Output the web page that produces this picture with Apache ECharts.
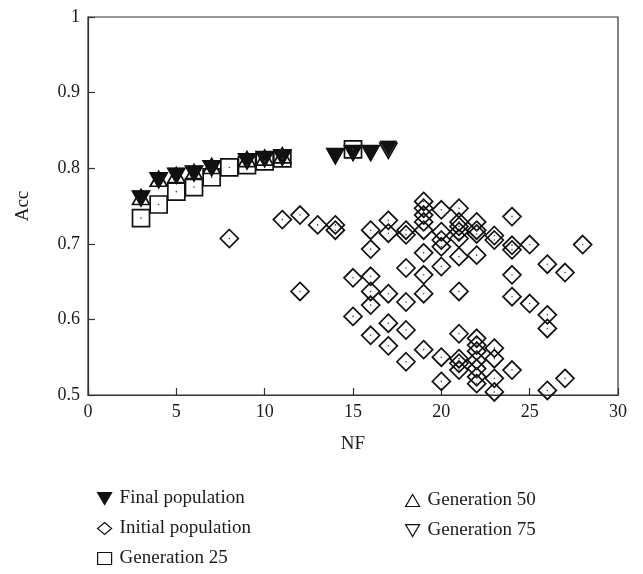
<!DOCTYPE html>
<html>
<head>
<meta charset="utf-8">
<script src="https://cdn.jsdelivr.net/npm/echarts@6/dist/echarts.min.js"></script>
<style>
  html, body { margin: 0; padding: 0; background: #fff; }
  #container { width: 643px; height: 574px; }
</style>
</head>
<body>
<div id="container"></div>
<script>
var dom = document.getElementById("container");
var myChart = echarts.init(dom, null, {renderer: 'canvas'});

// [NF, Acc] pairs
var finalPop = [
    [3, 0.760], [4, 0.784], [5, 0.790], [6, 0.793], [7, 0.800], [9, 0.809],
    [10, 0.812], [11, 0.814], [14, 0.816], [15, 0.820], [16, 0.820], [17, 0.826]
];
var gen25 = [
    [3, 0.734], [4, 0.752], [5, 0.769], [6, 0.775], [7, 0.788], [8, 0.801],
    [9, 0.804], [10, 0.809], [11, 0.813], [15, 0.825]
];
var gen50 = [
    [3, 0.762], [4, 0.786], [5, 0.791], [6, 0.795], [7, 0.803], [9, 0.812],
    [10, 0.814], [11, 0.817]
];
var gen75 = [
    [3, 0.760], [4, 0.784], [5, 0.790], [6, 0.793], [7, 0.800], [9, 0.809],
    [10, 0.812], [11, 0.814], [14, 0.816], [15, 0.820], [16, 0.820], [17, 0.823]
];
var initialPop = [
    [8, 0.707], [11, 0.732], [12, 0.738], [12, 0.637], [13, 0.725],
    [14, 0.725], [14, 0.718],
    [15, 0.655], [15, 0.604],
    [16, 0.718], [16, 0.693], [16, 0.657], [16, 0.637], [16, 0.619], [16, 0.579],
    [17, 0.731], [17, 0.714], [17, 0.634], [17, 0.595], [17, 0.565],
    [18, 0.718], [18, 0.712], [18, 0.668], [18, 0.623], [18, 0.586], [18, 0.544],
    [19, 0.756], [19, 0.747], [19, 0.738], [19, 0.729], [19, 0.718], [19, 0.688],
    [19, 0.659], [19, 0.634], [19, 0.560],
    [20, 0.745], [20, 0.716], [20, 0.705], [20, 0.696], [20, 0.670], [20, 0.550], [20, 0.518],
    [21, 0.747], [21, 0.729], [21, 0.723], [21, 0.716], [21, 0.707], [21, 0.683],
    [21, 0.637], [21, 0.581], [21, 0.548], [21, 0.542], [21, 0.533],
    [22, 0.729], [22, 0.718], [22, 0.713], [22, 0.685], [22, 0.575], [22, 0.566],
    [22, 0.558], [22, 0.546], [22, 0.535], [22, 0.524], [22, 0.515],
    [23, 0.711], [23, 0.705], [23, 0.562], [23, 0.548], [23, 0.522], [23, 0.504],
    [24, 0.736], [24, 0.698], [24, 0.692], [24, 0.659], [24, 0.630], [24, 0.533],
    [25, 0.699], [25, 0.621],
    [26, 0.673], [26, 0.606], [26, 0.588], [26, 0.506],
    [27, 0.662], [27, 0.522],
    [28, 0.699]
];

var seriesNames = ['Final population', 'Initial population', 'Generation 25', 'Generation 50', 'Generation 75'];

var ink = '#111';
var serif = 'Liberation Serif';
var downTri = 'path://M0,0L20,0L10,17Z';
var hollow = {color: 'rgba(0,0,0,0)', borderColor: ink, borderWidth: 1.7, opacity: 1};
var legendText = {fontFamily: serif, fontSize: 19, color: '#1a1a1a', padding: [0, 0, 0, 3]};

var option = {
    animation: false,
    backgroundColor: '#fff',
    textStyle: {fontFamily: serif, color: '#222'},
    grid: {
        left: 88, top: 17, right: 25, bottom: 179,
        show: true, borderColor: '#333', borderWidth: 1.2, backgroundColor: 'transparent'
    },
    legend: [
        {
            data: seriesNames.slice(0, 3),
            orient: 'vertical',
            left: 97, top: 489, padding: 0,
            itemWidth: 14, itemHeight: 12, itemGap: 11,
            itemStyle: {borderWidth: 1.2},
            textStyle: legendText
        },
        {
            data: seriesNames.slice(3),
            orient: 'vertical',
            left: 405, top: 491, padding: 0,
            itemWidth: 14, itemHeight: 12, itemGap: 11,
            itemStyle: {borderWidth: 1.2},
            textStyle: legendText
        }
    ],
    xAxis: {
        type: 'value', min: 0, max: 30, interval: 5,
        name: 'NF', nameLocation: 'middle', nameGap: 40,
        nameTextStyle: {fontFamily: serif, fontSize: 19, color: '#1a1a1a'},
        axisLine: {lineStyle: {color: '#333', width: 1.2}},
        axisTick: {inside: true, length: 7, lineStyle: {color: '#333', width: 1.2}},
        axisLabel: {fontFamily: serif, fontSize: 18, color: '#1a1a1a', margin: 8},
        splitLine: {show: false}
    },
    yAxis: {
        type: 'value', min: 0.5, max: 1, interval: 0.1,
        name: 'Acc', nameLocation: 'middle', nameGap: 55,
        nameTextStyle: {fontFamily: serif, fontSize: 19, color: '#1a1a1a'},
        axisLine: {lineStyle: {color: '#333', width: 1.2}},
        axisTick: {inside: true, length: 7, lineStyle: {color: '#333', width: 1.2}},
        axisLabel: {fontFamily: serif, fontSize: 18, color: '#1a1a1a', margin: 8},
        splitLine: {show: false}
    },
    series: [
        {
            name: 'Initial population', type: 'scatter', data: initialPop,
            symbol: 'diamond', symbolSize: [18, 18], itemStyle: hollow
        },
        {
            name: 'Generation 25', type: 'scatter', data: gen25,
            symbol: 'rect', symbolSize: 17, itemStyle: hollow
        },
        {
            name: 'Generation 50', type: 'scatter', data: gen50,
            symbol: 'triangle', symbolSize: [17, 15], itemStyle: hollow
        },
        {
            name: 'Generation 75', type: 'scatter', data: gen75,
            symbol: downTri, symbolSize: [17, 15], symbolKeepAspect: false, itemStyle: hollow
        },
        {
            name: 'Final population', type: 'scatter', data: finalPop,
            symbol: downTri, symbolSize: [17, 15], symbolKeepAspect: false,
            itemStyle: {color: ink, borderColor: ink, borderWidth: 0.8, opacity: 1}
        },
        {
            // small centre dots inside the open markers
            name: 'dots', type: 'scatter', silent: true,
            data: initialPop.concat(gen25),
            symbol: 'circle', symbolSize: 1.6, itemStyle: {color: '#444', opacity: 1}
        }
    ]
};

myChart.setOption(option);
</script>
</body>
</html>
